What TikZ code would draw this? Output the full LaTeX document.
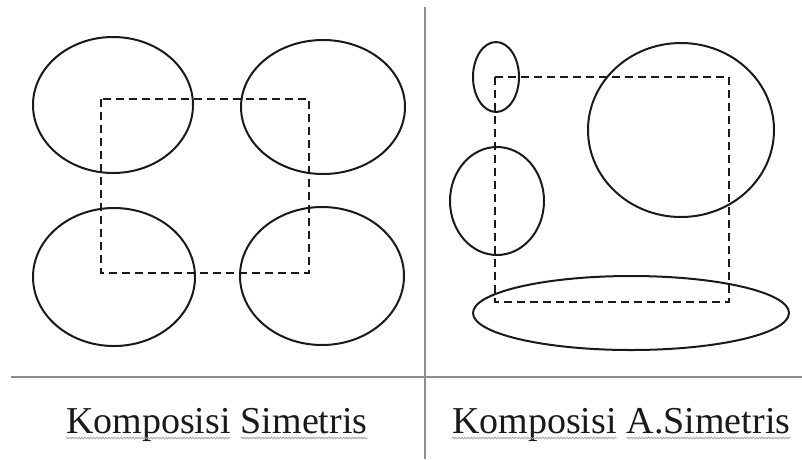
\documentclass[tikz,border=0pt]{standalone}
\usepackage{fontspec}
\setmainfont{Liberation Serif}
\usepackage{xcolor}
\usetikzlibrary{positioning,decorations.pathmorphing}
\definecolor{ink}{HTML}{1A1A1A}
\definecolor{rule}{HTML}{8E8E8E}
\tikzset{
  shapeline/.style={ink, line width=2pt},
  guide/.style={ink, line width=2pt, dash pattern=on 8pt off 5pt},
  divider/.style={rule, line width=2pt},
  word/.style={font=\fontsize{38}{44}\selectfont, text=ink, inner sep=0pt},
  squiggle/.style={black!35, line width=0.8pt, decorate, decoration={snake, amplitude=0.8pt, segment length=3pt}},
}
\begin{document}
\begin{tikzpicture}[x=1pt, y=-1pt]
\useasboundingbox (0,0) rectangle (802,459);
\draw[divider] (425,7) -- (425,459);
\draw[divider] (11,377) -- (802,377);
\draw[shapeline] (113,105) ellipse [x radius=80, y radius=68];
\draw[shapeline] (323,107) ellipse [x radius=82, y radius=67];
\draw[shapeline] (114,277) ellipse [x radius=81, y radius=69];
\draw[shapeline] (322,276) ellipse [x radius=82, y radius=69];
\draw[guide] (101,99) rectangle (309,273);
\draw[shapeline] (496,77) ellipse [x radius=23, y radius=35];
\draw[shapeline] (497,201) ellipse [x radius=47, y radius=54];
\draw[shapeline] (681,130) ellipse [x radius=93, y radius=87];
\draw[shapeline] (631,313) ellipse [x radius=158, y radius=37];
\draw[guide] (495,77) rectangle (729,302);
\node[word, anchor=base west] (kompL) at (66,433) {Komposisi};
\node[word, base right=9.5pt of kompL] (simL) {Simetris};
\node[word, anchor=base west] (kompR) at (452,433) {Komposisi};
\node[word, base right=9.5pt of kompR] (simR) {A.Simetris};
\foreach \w in {kompL,simL,kompR,simR}
  \draw[squiggle] ([yshift=-5pt]\w.base west) -- ([yshift=-5pt]\w.base east);
\end{tikzpicture}
\end{document}
